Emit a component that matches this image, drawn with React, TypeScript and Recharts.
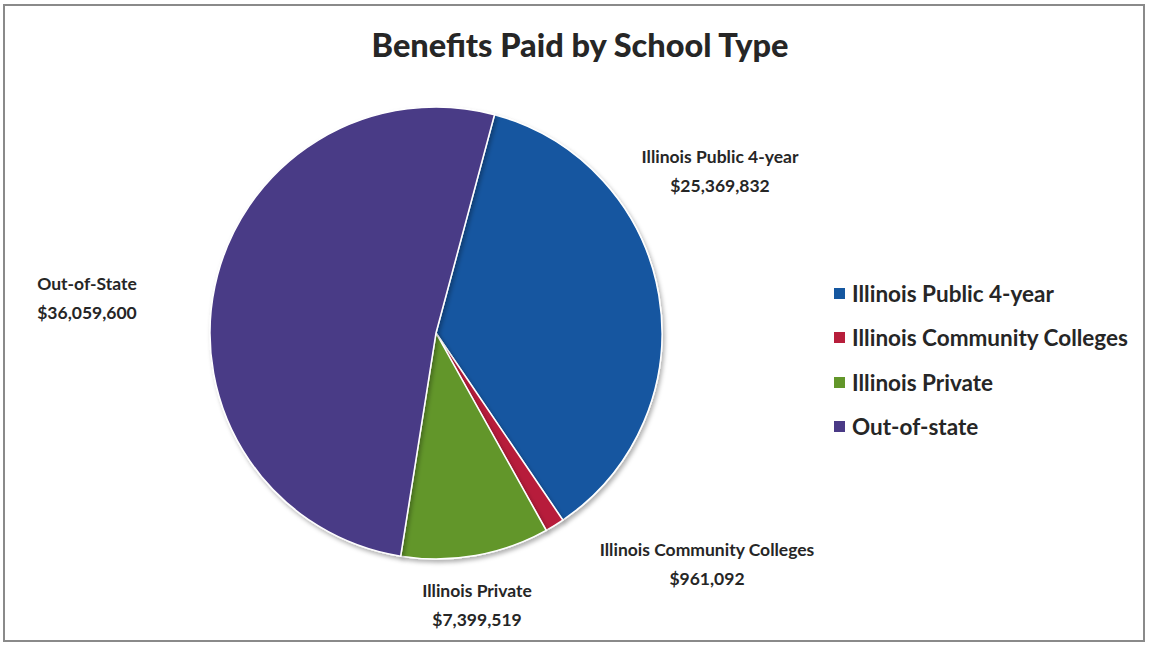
import React from "react";
import { PieChart, Pie, Cell } from "recharts";

// Benefits paid, by school type (US dollars)
const schoolTypes = [
  "Illinois Public 4-year",
  "Illinois Community Colleges",
  "Illinois Private",
  "Out-of-state",
];
const benefitsPaid = [25369832, 961092, 7399519, 36059600];
// Data-label captions (the slice labels keep their own capitalisation)
const labelNames = [
  "Illinois Public 4-year",
  "Illinois Community Colleges",
  "Illinois Private",
  "Out-of-State",
];

const COLORS = ["#1557A0", "#B71E3B", "#62962A", "#4A3A86"];

// Label anchor offsets from the pie centre (best-fit placement)
const LABEL_OFFSETS = [
  { dx: 284, dy: -170 },
  { dx: 271, dy: 223 },
  { dx: 41, dy: 264 },
  { dx: -349, dy: -43 },
];

const data = schoolTypes.map((name, i) => ({
  name,
  label: labelNames[i],
  value: benefitsPaid[i],
}));

const W = 1150;
const H = 647;
const CX = 436;
const CY = 333;
const R = 226;

const FONT = "Lato, 'Open Sans', sans-serif";

const fmt = (v: number) => "$" + v.toLocaleString("en-US");

const renderLabel = (props: any) => {
  const { index, payload, cx, cy } = props;
  const off = LABEL_OFFSETS[index];
  const x = cx + off.dx;
  const y = cy + off.dy;
  return (
    <text
      x={x}
      y={y}
      textAnchor="middle"
      fill="#262626"
      fontFamily={FONT}
      fontWeight={700}
      fontSize={17.5}
    >
      <tspan x={x} dy={0}>{payload.label}</tspan>
      <tspan x={x} dy={29}>{fmt(payload.value)}</tspan>
    </text>
  );
};

function LegendBox() {
  return (
    <div
      style={{
        position: "absolute",
        left: 834,
        top: 271,
        fontFamily: FONT,
        fontWeight: 700,
        fontSize: 22.5,
        color: "#262626",
      }}
    >
      {data.map((d, i) => (
        <div
          key={d.name}
          style={{ display: "flex", alignItems: "center", height: 44.5, whiteSpace: "nowrap" }}
        >
          <span
            style={{
              display: "inline-block",
              width: 11,
              height: 11,
              background: COLORS[i],
              marginRight: 7,
            }}
          />
          {d.name}
        </div>
      ))}
    </div>
  );
}

export default function App() {
  return (
    <div
      style={{
        position: "absolute",
        left: 0,
        top: 0,
        width: W,
        height: H,
        background: "#fff",
      }}
    >
      <div
        style={{
          position: "absolute",
          left: 3,
          top: 4,
          width: W - 8,
          height: H - 9,
          border: "2px solid #8a8a8a",
          boxSizing: "border-box",
        }}
      />
      <div
        style={{
          position: "absolute",
          left: 0,
          top: 25,
          width: 1160,
          textAlign: "center",
          fontFamily: FONT,
          fontWeight: 900,
          fontSize: 32.5,
          color: "#262626",
        }}
      >
        Benefits Paid by School Type
      </div>
      <div style={{ position: "absolute", left: 0, top: 0 }}>
        <PieChart width={W} height={H} margin={{ top: 0, right: 0, bottom: 0, left: 0 }}>
          <defs>
            <filter id="pieShadow" x="-10%" y="-10%" width="120%" height="120%">
              <feDropShadow dx="2" dy="3" stdDeviation="2" floodColor="#000" floodOpacity="0.3" />
            </filter>
          </defs>
          <Pie
            data={data}
            dataKey="value"
            nameKey="name"
            cx={CX}
            cy={CY}
            outerRadius={R}
            startAngle={75}
            endAngle={-285}
            stroke="#ffffff"
            strokeWidth={1.5}
            labelLine={false}
            label={renderLabel}
            isAnimationActive={false}
            style={{ filter: "url(#pieShadow)" }}
          >
            {data.map((d, i) => (
              <Cell key={d.name} fill={COLORS[i]} />
            ))}
          </Pie>
        </PieChart>
      </div>
      <LegendBox />
    </div>
  );
}
